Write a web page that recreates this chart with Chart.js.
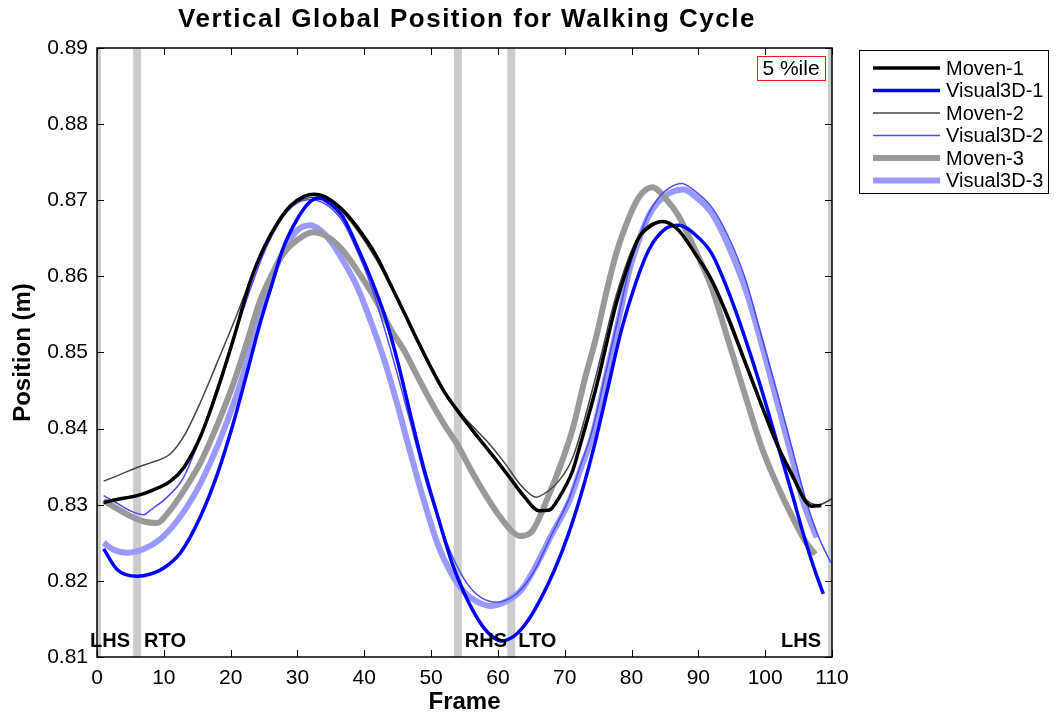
<!DOCTYPE html>
<html>
<head>
<meta charset="utf-8">
<script src="https://cdn.jsdelivr.net/npm/chart.js@4"></script>
<style>
  html, body { margin: 0; padding: 0; background: #fff; }
  #wrap { width: 1062px; height: 721px; }
</style>
</head>
<body>
<div id="wrap"><canvas id="chart" width="1062" height="721"></canvas></div>
<script>
// frames + vertical position (m)
const moven1X = [1, 3, 6, 8, 11, 13, 15.5, 18, 20.5, 23, 25, 27, 29, 31, 32.5, 34, 36.8, 39, 41.8, 44, 46, 48, 50, 52, 54, 56, 58, 60, 62, 64, 66.2, 67.7, 69.2, 71.2, 72.2, 74.7, 77.7, 79.5, 81.1, 83, 84.6, 87, 89.5, 92, 94.5, 97.1, 99.5, 102, 104, 106, 107, 108.4];
const moven1Y = [0.8303, 0.8307, 0.8312, 0.8318, 0.8331, 0.8349, 0.839, 0.845, 0.852, 0.8595, 0.8638, 0.867, 0.8693, 0.8705, 0.8708, 0.8705, 0.8687, 0.8664, 0.8627, 0.8588, 0.8552, 0.8515, 0.848, 0.8448, 0.8423, 0.84, 0.8378, 0.8356, 0.8333, 0.831, 0.8292, 0.8293, 0.831, 0.8345, 0.8375, 0.8454, 0.8564, 0.8615, 0.8651, 0.8667, 0.8672, 0.8661, 0.863, 0.8595, 0.8545, 0.8485, 0.843, 0.8375, 0.834, 0.8305, 0.8298, 0.8299];

const visual1X = [1, 3, 6, 8, 10, 12.5, 15.4, 18, 20.4, 22.5, 24.4, 26.2, 27.9, 29.5, 30.8, 32, 33.1, 34.5, 36.8, 39, 41, 43, 45, 47, 49, 51, 53.2, 55, 57.2, 59, 60.5, 62.5, 64.5, 66.5, 68.5, 70.5, 72.5, 74.5, 76.5, 78.5, 80.5, 82.6, 85, 87.1, 89.5, 92, 94.5, 97.1, 99.5, 102, 104, 106, 107.5, 108.7];
const visual1Y = [0.8242, 0.8215, 0.8206, 0.8209, 0.8217, 0.8237, 0.8283, 0.834, 0.8407, 0.8475, 0.8538, 0.859, 0.8638, 0.8668, 0.8687, 0.8699, 0.8703, 0.8698, 0.8678, 0.8638, 0.8597, 0.855, 0.8488, 0.8415, 0.8345, 0.8285, 0.8222, 0.8183, 0.8147, 0.8128, 0.8121, 0.8128, 0.8148, 0.8178, 0.8215, 0.826, 0.8315, 0.838, 0.8455, 0.853, 0.8588, 0.8635, 0.8662, 0.8667, 0.8655, 0.863, 0.858, 0.8516, 0.845, 0.8375, 0.8315, 0.8253, 0.8212, 0.8183];

const moven2X = [1, 3, 6, 8, 11, 13, 15.4, 18, 20.4, 22.5, 24.4, 26.5, 28.9, 31, 33, 35, 36.8, 41.8, 46, 50, 54, 56, 58.3, 61, 63.5, 65.7, 67.5, 69, 71.2, 74.7, 77.7, 81, 84.5, 87, 92, 97.1, 102, 106, 108, 109, 110];
const moven2Y = [0.8331, 0.8338, 0.8349, 0.8355, 0.8367, 0.839, 0.8433, 0.8487, 0.8538, 0.8585, 0.8625, 0.866, 0.8691, 0.8702, 0.8704, 0.8695, 0.8684, 0.8622, 0.855, 0.8478, 0.8425, 0.8405, 0.8384, 0.8355, 0.8325, 0.831, 0.8318, 0.833, 0.8362, 0.847, 0.8575, 0.8652, 0.8672, 0.866, 0.8592, 0.8482, 0.8372, 0.8308, 0.83, 0.8303, 0.8308];

const visual2X = [1, 3, 5, 7, 8, 10.5, 12.9, 15.5, 18, 20.5, 22.9, 24.7, 26.4, 28, 29.9, 32, 33.5, 35, 36.8, 39, 41, 43, 45, 47, 49, 51, 53.2, 55.5, 57.5, 59.8, 62, 63.8, 65.7, 68, 70.7, 72.3, 74.1, 76.2, 78, 79.6, 81, 82.6, 84, 85.6, 87.5, 89.5, 92, 94.5, 97.1, 99.5, 102, 104, 106, 107.8, 109.8];
const visual2Y = [0.8312, 0.8302, 0.8292, 0.8287, 0.8293, 0.831, 0.8335, 0.839, 0.8454, 0.852, 0.8582, 0.8625, 0.8657, 0.868, 0.8696, 0.8701, 0.8698, 0.869, 0.8672, 0.8632, 0.8588, 0.8532, 0.847, 0.8405, 0.8338, 0.8283, 0.8232, 0.8195, 0.8178, 0.8172, 0.8178, 0.8192, 0.8217, 0.826, 0.8309, 0.835, 0.8397, 0.8476, 0.8545, 0.8608, 0.8648, 0.8683, 0.8703, 0.8716, 0.8722, 0.8712, 0.8691, 0.8652, 0.8595, 0.852, 0.8441, 0.8375, 0.8309, 0.8262, 0.8224];

const moven3X = [1, 3, 5, 7, 9, 10.5, 12.5, 15.4, 18, 20.4, 22.5, 24.4, 26.2, 27.9, 30, 32.3, 34.5, 36.8, 39.3, 41.8, 44, 46, 48, 50, 52, 54, 56, 58, 60, 62, 63.3, 65, 67.5, 69.5, 71.2, 73, 74.7, 76.2, 77.7, 79.5, 81.1, 83.1, 85.3, 87, 89.5, 92, 94.5, 97.1, 99.5, 102, 104, 106, 107.5];
const moven3Y = [0.8305, 0.8295, 0.8285, 0.8278, 0.8276, 0.8288, 0.8312, 0.8354, 0.8405, 0.8459, 0.8515, 0.8568, 0.8603, 0.863, 0.8648, 0.8658, 0.8652, 0.8634, 0.8603, 0.8568, 0.853, 0.8502, 0.8468, 0.8435, 0.8405, 0.8378, 0.8345, 0.8315, 0.8288, 0.8266, 0.8259, 0.8264, 0.831, 0.8355, 0.84, 0.8465, 0.852, 0.8578, 0.863, 0.8675, 0.8704, 0.8717, 0.870, 0.868, 0.8635, 0.8585, 0.8515, 0.8441, 0.8375, 0.8322, 0.8285, 0.8252, 0.8235];

const visual3X = [1, 2.5, 4.5, 7, 9.5, 12, 14.5, 16.9, 19.5, 21.9, 24, 26.4, 28.2, 29.9, 31.9, 33.5, 34.9, 37, 39, 41, 43, 45, 47, 49, 51, 53, 55, 57, 59, 61, 63.5, 65.7, 68, 70.7, 72.3, 74.1, 76.2, 78, 79.6, 81, 82.6, 84, 85.6, 87.8, 89.5, 92, 94.5, 97.1, 99.5, 102, 104, 105.5, 107.7];
const visual3Y = [0.825, 0.8241, 0.8237, 0.8242, 0.8255, 0.8279, 0.8312, 0.8354, 0.841, 0.8472, 0.854, 0.8604, 0.8638, 0.866, 0.8667, 0.866, 0.8647, 0.8618, 0.8585, 0.854, 0.849, 0.843, 0.8365, 0.8303, 0.8248, 0.821, 0.8185, 0.8172, 0.8167, 0.8172, 0.8188, 0.822, 0.826, 0.8305, 0.8345, 0.839, 0.847, 0.854, 0.8605, 0.8645, 0.868, 0.8698, 0.8709, 0.8714, 0.8705, 0.8683, 0.864, 0.8582, 0.851, 0.8428, 0.8362, 0.8309, 0.8257];

// gait events (frame) and their labels
const eventFrames = [0, 6, 54, 62, 110];
const eventLabels = ['LHS', 'RTO', 'RHS', 'LTO', 'LHS'];

const xMax = 110;
const yMin = 0.81, yMax = 0.89;

function pts(xs, ys) {
  return xs.map((x, i) => ({ x: x, y: ys[i] }));
}

const series = [
  { label: 'Moven-1', data: pts(moven1X, moven1Y), borderColor: '#000000', borderWidth: 3.5 },
  { label: 'Visual3D-1', data: pts(visual1X, visual1Y), borderColor: '#0000ff', borderWidth: 3.5 },
  { label: 'Moven-2', data: pts(moven2X, moven2Y), borderColor: '#444444', borderWidth: 1.5 },
  { label: 'Visual3D-2', data: pts(visual2X, visual2Y), borderColor: '#4b4bff', borderWidth: 1.5 },
  { label: 'Moven-3', data: pts(moven3X, moven3Y), borderColor: '#999999', borderWidth: 6 },
  { label: 'Visual3D-3', data: pts(visual3X, visual3Y), borderColor: '#9999ff', borderWidth: 6 }
];

const FONT = '"Liberation Sans", Arial, Helvetica, sans-serif';

// bands, event labels, inward ticks, box, legend, title
const matlabLook = {
  id: 'matlabLook',
  beforeDatasetsDraw(chart) {
    const { ctx, chartArea: a, scales: { x } } = chart;
    ctx.save();
    ctx.beginPath();
    ctx.rect(a.left, a.top, a.right - a.left, a.bottom - a.top);
    ctx.clip();
    ctx.fillStyle = '#cccccc';
    eventFrames.forEach(f => {
      const px = x.getPixelForValue(f);
      ctx.fillRect(px - 4, a.top, 8, a.bottom - a.top);
    });
    ctx.restore();
  },
  afterDatasetsDraw(chart) {
    const { ctx, chartArea: a, scales: { x, y } } = chart;
    ctx.save();

    // event labels along the bottom
    ctx.font = 'bold 20px ' + FONT;
    ctx.fillStyle = '#000';
    ctx.textBaseline = 'alphabetic';
    eventFrames.forEach((f, i) => {
      const px = x.getPixelForValue(f);
      if (i === eventFrames.length - 1) {
        ctx.textAlign = 'right';
        ctx.fillText(eventLabels[i], px - 11, a.bottom - 10);
      } else {
        ctx.textAlign = 'left';
        ctx.fillText(eventLabels[i], i === 0 ? px - 7 : px + 7, a.bottom - 10);
      }
    });

    // axes box and inward ticks
    ctx.strokeStyle = '#000';
    ctx.lineWidth = 1.5;
    ctx.strokeRect(a.left, a.top, a.right - a.left, a.bottom - a.top);
    ctx.lineWidth = 1;
    ctx.beginPath();
    x.ticks.forEach(t => {
      const px = Math.round(x.getPixelForValue(t.value)) + 0.5;
      ctx.moveTo(px, a.bottom); ctx.lineTo(px, a.bottom - 7);
      ctx.moveTo(px, a.top); ctx.lineTo(px, a.top + 7);
    });
    y.ticks.forEach(t => {
      const py = Math.round(y.getPixelForValue(t.value)) + 0.5;
      ctx.moveTo(a.left, py); ctx.lineTo(a.left + 7, py);
      ctx.moveTo(a.right, py); ctx.lineTo(a.right - 7, py);
    });
    ctx.stroke();

    // "5 %ile" tag
    ctx.font = '21px ' + FONT;
    ctx.textAlign = 'center';
    ctx.textBaseline = 'middle';
    ctx.fillText('5 %ile', 791, 69);
    ctx.strokeStyle = '#e02020';
    ctx.lineWidth = 1;
    ctx.strokeRect(757.5, 56.5, 68, 24);

    // legend
    const lx = 859, ly = 50, lw = 189, lh = 143;
    ctx.fillStyle = '#fff';
    ctx.fillRect(lx, ly, lw, lh);
    ctx.strokeStyle = '#000';
    ctx.strokeRect(lx + 0.5, ly + 0.5, lw, lh);
    ctx.textAlign = 'left';
    ctx.font = '20px ' + FONT;
    chart.data.datasets.forEach((ds, i) => {
      const cy = 68 + i * 22.5;
      ctx.strokeStyle = ds.borderColor;
      ctx.lineWidth = ds.borderWidth;
      ctx.beginPath();
      ctx.moveTo(873, cy); ctx.lineTo(940, cy);
      ctx.stroke();
      ctx.fillStyle = '#000';
      ctx.fillText(ds.label, 946, cy + 1);
    });

    // title
    ctx.font = 'bold 26px ' + FONT;
    ctx.letterSpacing = '1.5px';
    ctx.textAlign = 'center';
    ctx.fillText('Vertical Global Position for Walking Cycle', 467, 20);
    ctx.restore();
  }
};

new Chart(document.getElementById('chart'), {
  type: 'line',
  data: {
    datasets: series.map(s => ({
      label: s.label,
      data: s.data,
      borderColor: s.borderColor,
      borderWidth: s.borderWidth,
      pointRadius: 0,
      fill: false,
      cubicInterpolationMode: 'monotone',
      borderCapStyle: 'butt',
      borderJoinStyle: 'round'
    }))
  },
  options: {
    responsive: false,
    animation: false,
    layout: { padding: { top: 48, right: 230, bottom: 0, left: 0 } },
    plugins: {
      legend: { display: false },
      tooltip: { enabled: false },
      title: { display: false }
    },
    scales: {
      x: {
        type: 'linear',
        min: 0,
        max: xMax,
        grid: { display: false, drawTicks: false },
        border: { display: false },
        ticks: { stepSize: 10, autoSkip: false, color: '#000', padding: 9, font: { size: 21, family: FONT } },
        title: { display: true, text: 'Frame', color: '#000', padding: { top: 0 }, font: { size: 24, weight: 'bold', family: FONT } },
        afterFit: s => { s.height = 64; }
      },
      y: {
        min: yMin,
        max: yMax,
        grid: { display: false, drawTicks: false },
        border: { display: false },
        ticks: {
          stepSize: 0.01,
          color: '#000',
          padding: 9,
          font: { size: 21, family: FONT },
          callback: v => v.toFixed(2)
        },
        title: { display: true, text: 'Position (m)', color: '#000', padding: { top: 9, bottom: 0 }, font: { size: 24, weight: 'bold', family: FONT } },
        afterFit: s => { s.width = 97; }
      }
    }
  },
  plugins: [matlabLook]
});
</script>
</body>
</html>
